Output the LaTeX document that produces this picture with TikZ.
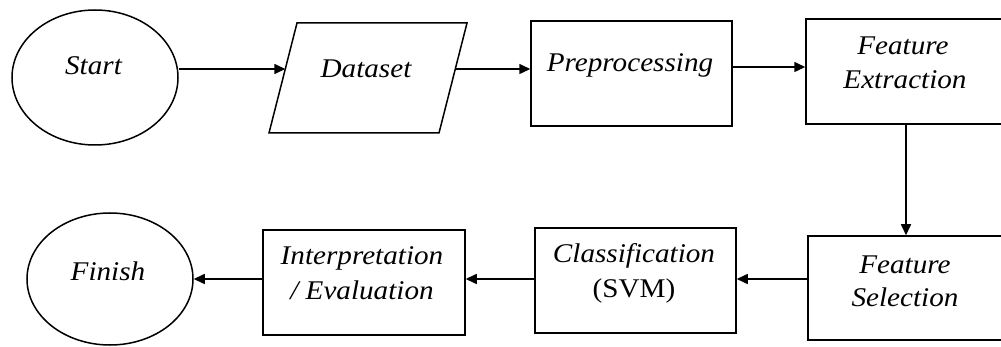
\documentclass[tikz,border=0pt]{standalone}
\usepackage{fontspec}
\setmainfont{Liberation Serif}[FakeStretch=1.08]
\usetikzlibrary{shapes.geometric,arrows.meta}
\begin{document}
\begin{tikzpicture}[x=1pt,y=-1pt,
  shp/.style={draw,line width=1.5pt,inner sep=0pt},
  box/.style={shp,rectangle,minimum height=105pt},
  oval/.style={shp,ellipse,minimum width=166pt},
  lbl/.style={anchor=base,inner sep=0pt,font=\fontsize{27}{32}\selectfont\itshape},
  arr/.style={line width=1.5pt,-{Triangle[length=11pt,width=10pt]}}]
\clip (0,0) rectangle (1001,347);
\fill[white] (0,0) rectangle (1001,347);
% shapes
\node[oval,minimum height=135pt] (start) at (95,77.5) {};
\draw[line width=1.5pt] (297,23) -- (467,23) -- (439,133) -- (269,133) -- cycle;
\coordinate (dsin) at (285.3,69);
\coordinate (dsout) at (455.3,69);
\node[box,minimum width=201pt] (pre) at (631.5,73.5) {};
\node[box,minimum width=200pt] (fe) at (906,71.5) {};
\node[box,minimum width=200pt,minimum height=104pt] (fs) at (908,288) {};
\node[box,minimum width=201pt] (cls) at (635.5,280.5) {};
\node[box,minimum width=202pt] (int) at (364,282.5) {};
\node[oval,minimum height=132pt] (fin) at (110,279) {};
% labels
\node[lbl] (tstart) at (93.5,75) {Start};
\node[lbl] (tds) at (366,78) {Dataset};
\node[lbl] (tpre) at (630,72) {Preprocessing};
\node[lbl] (tfe1) at (903,55) {Feature};
\node[lbl] (tfe2) at (905,89) {Extraction};
\node[lbl] (tfs1) at (905,273) {Feature};
\node[lbl] (tfs2) at (905,306) {Selection};
\node[lbl] (tcls1) at (634,263) {Classification};
\node[lbl,font=\fontsize{27}{32}\selectfont\upshape] (tcls2) at (634,298) {(SVM)};
\node[lbl] (tint1) at (362,265) {Interpretation};
\node[lbl] (tint2) at (362,299) {/ Evaluation};
\node[lbl] (tfin) at (108,280) {Finish};
% connectors
\draw[arr] (start.east |- dsin) -- (dsin);
\draw[arr] (dsout) -- (pre.west |- dsout);
\draw[arr] ([yshift=6.5pt]pre.east) -- ([yshift=6.5pt]pre.east -| fe.west);
\draw[arr] (fe.south) -- (fe.south |- fs.north);
\draw[arr] ([yshift=9pt]fs.west) -- ([yshift=9pt]fs.west -| cls.east);
\draw[arr] ([yshift=1.5pt]cls.west) -- ([yshift=1.5pt]cls.west -| int.east);
\draw[arr] ([yshift=3.5pt]int.west) -- (fin.east);
\end{tikzpicture}
\end{document}
